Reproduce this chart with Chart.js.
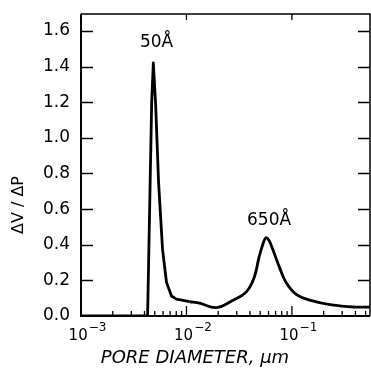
<!DOCTYPE html>
<html>
<head>
<meta charset="utf-8">
<script src="https://cdn.jsdelivr.net/npm/chart.js@4/dist/chart.umd.min.js"></script>
<style>
  html, body { margin: 0; padding: 0; background: #fff; }
  #wrap { width: 371px; height: 369px; }
</style>
</head>
<body>
<div id="wrap"><canvas id="c" width="371" height="369"></canvas></div>
<script>
// pore size distribution
const poreDiam = [0.001, 0.00428, 0.00468, 0.00485, 0.0051, 0.00544, 0.00593, 0.00646, 0.00721,
  0.00803, 0.0107, 0.0133, 0.0192, 0.0272, 0.0368, 0.0438, 0.0488, 0.0535, 0.0569, 0.0605,
  0.0648, 0.0754, 0.0877, 0.109, 0.154, 0.238, 0.402, 0.55];
const dvdp = [0, 0, 1.2, 1.42, 1.19, 0.75, 0.375, 0.19, 0.112,
  0.095, 0.08, 0.072, 0.047, 0.086, 0.134, 0.215, 0.33, 0.41, 0.44, 0.425,
  0.385, 0.28, 0.19, 0.123, 0.086, 0.062, 0.05, 0.05];
const spikeEnd = 10; // points up to here are joined with straight lines

const yTicks = [0, 0.2, 0.4, 0.6, 0.8, 1.0, 1.2, 1.4, 1.6];
const xMajor = [0.001, 0.01, 0.1];
const xExp = ['-3', '-2', '-1'];
const xMinorMult = [2, 3, 4, 5, 6, 7, 8, 9];

const peakLabels = ['50Å', '650Å'];
const peakX = [0.0052, 0.0607];
const peakY = [1.535, 0.535];

const FONT = '"DejaVu Sans", sans-serif';

const framePlugin = {
  id: 'frame',
  afterDraw(chart) {
    const { ctx, chartArea: a, scales: { x, y } } = chart;
    ctx.save();
    ctx.strokeStyle = '#000';
    ctx.fillStyle = '#000';
    // box
    ctx.lineWidth = 2;
    ctx.beginPath();
    ctx.moveTo(a.left, a.top); ctx.lineTo(a.left, a.bottom); ctx.lineTo(a.right, a.bottom);
    ctx.stroke();
    ctx.lineWidth = 1.5;
    ctx.beginPath();
    ctx.moveTo(a.left, a.top); ctx.lineTo(a.right, a.top); ctx.lineTo(a.right, a.bottom);
    ctx.stroke();

    // y ticks, inward on both sides
    yTicks.forEach(v => {
      if (v === 0) return;
      const py = Math.round(y.getPixelForValue(v)) + 0.5;
      ctx.beginPath();
      ctx.moveTo(a.left, py); ctx.lineTo(a.left + 12, py);
      ctx.moveTo(a.right, py); ctx.lineTo(a.right - 12, py);
      ctx.stroke();
    });

    // x ticks, inward
    ctx.lineWidth = 1.3;
    xMajor.forEach(m => {
      const px = x.getPixelForValue(m);
      if (m > 0.001) {
        ctx.beginPath();
        ctx.moveTo(px, a.bottom); ctx.lineTo(px, a.bottom - 10);
        ctx.moveTo(px, a.top); ctx.lineTo(px, a.top + 6);
        ctx.stroke();
      }
      xMinorMult.forEach(k => {
        const v = m * k;
        if (v > x.max) return;
        const p = x.getPixelForValue(v);
        ctx.beginPath();
        ctx.moveTo(p, a.bottom); ctx.lineTo(p, a.bottom - 5);
        ctx.stroke();
      });
    });

    // x tick labels: 10 with superscript exponent
    ctx.textBaseline = 'alphabetic';
    ctx.textAlign = 'left';
    xMajor.forEach((m, i) => {
      const px = x.getPixelForValue(m);
      const exp = xExp[i].replace('-', '\u2212');
      ctx.font = '15px ' + FONT;
      const w1 = ctx.measureText('10').width;
      ctx.font = '12px ' + FONT;
      const w2 = ctx.measureText(exp).width;
      const start = px - (w1 + w2) / 2 + 6;
      ctx.font = '15px ' + FONT;
      ctx.fillText('10', start, a.bottom + 24);
      ctx.font = '12px ' + FONT;
      ctx.fillText(exp, start + w1 + 1, a.bottom + 15);
    });

    // axis titles
    ctx.textAlign = 'center';
    ctx.textBaseline = 'middle';
    ctx.font = 'italic 18px ' + FONT;
    ctx.fillText('PORE DIAMETER, μm', 195, a.bottom + 42);
    ctx.save();
    ctx.translate(19, 205);
    ctx.rotate(-Math.PI / 2);
    ctx.font = '16px ' + FONT;
    ctx.fillText('ΔV / ΔP', 0, 0);
    ctx.restore();

    // peak annotations
    ctx.font = '17px ' + FONT;
    peakLabels.forEach((t, i) => {
      ctx.fillText(t, x.getPixelForValue(peakX[i]), y.getPixelForValue(peakY[i]));
    });
    ctx.restore();
  }
};

const pts = poreDiam.map((d, i) => ({ x: d, y: dvdp[i] }));
const lineStyle = { borderColor: '#000', borderWidth: 2.8, pointRadius: 0, fill: false };

new Chart(document.getElementById('c'), {
  type: 'line',
  data: {
    datasets: [
      { ...lineStyle, data: pts.slice(0, spikeEnd + 1), tension: 0, borderJoinStyle: 'round' },
      { ...lineStyle, data: pts.slice(spikeEnd), tension: 0.4 }
    ]
  },
  options: {
    responsive: false,
    animation: false,
    layout: { padding: { top: 14, right: 1, left: 0, bottom: 0 } },
    plugins: { legend: { display: false }, tooltip: { enabled: false } },
    scales: {
      x: {
        type: 'logarithmic',
        min: 0.001,
        max: 0.55,
        grid: { display: false, drawTicks: false },
        border: { display: false },
        ticks: { display: false },
        afterFit: s => { s.height = 53; s.paddingLeft = 0; s.paddingRight = 0; }
      },
      y: {
        min: 0,
        max: 1.695,
        afterBuildTicks: s => { s.ticks = yTicks.map(v => ({ value: v })); },
        grid: { display: false, drawTicks: false },
        border: { display: false },
        ticks: {
          padding: 11,
          color: '#000',
          font: { family: FONT, size: 17 },
          callback: v => Number(v).toFixed(1)
        },
        afterFit: s => { s.width = 81; s.paddingTop = 0; s.paddingBottom = 0; }
      }
    }
  },
  plugins: [framePlugin]
});
</script>
</body>
</html>
